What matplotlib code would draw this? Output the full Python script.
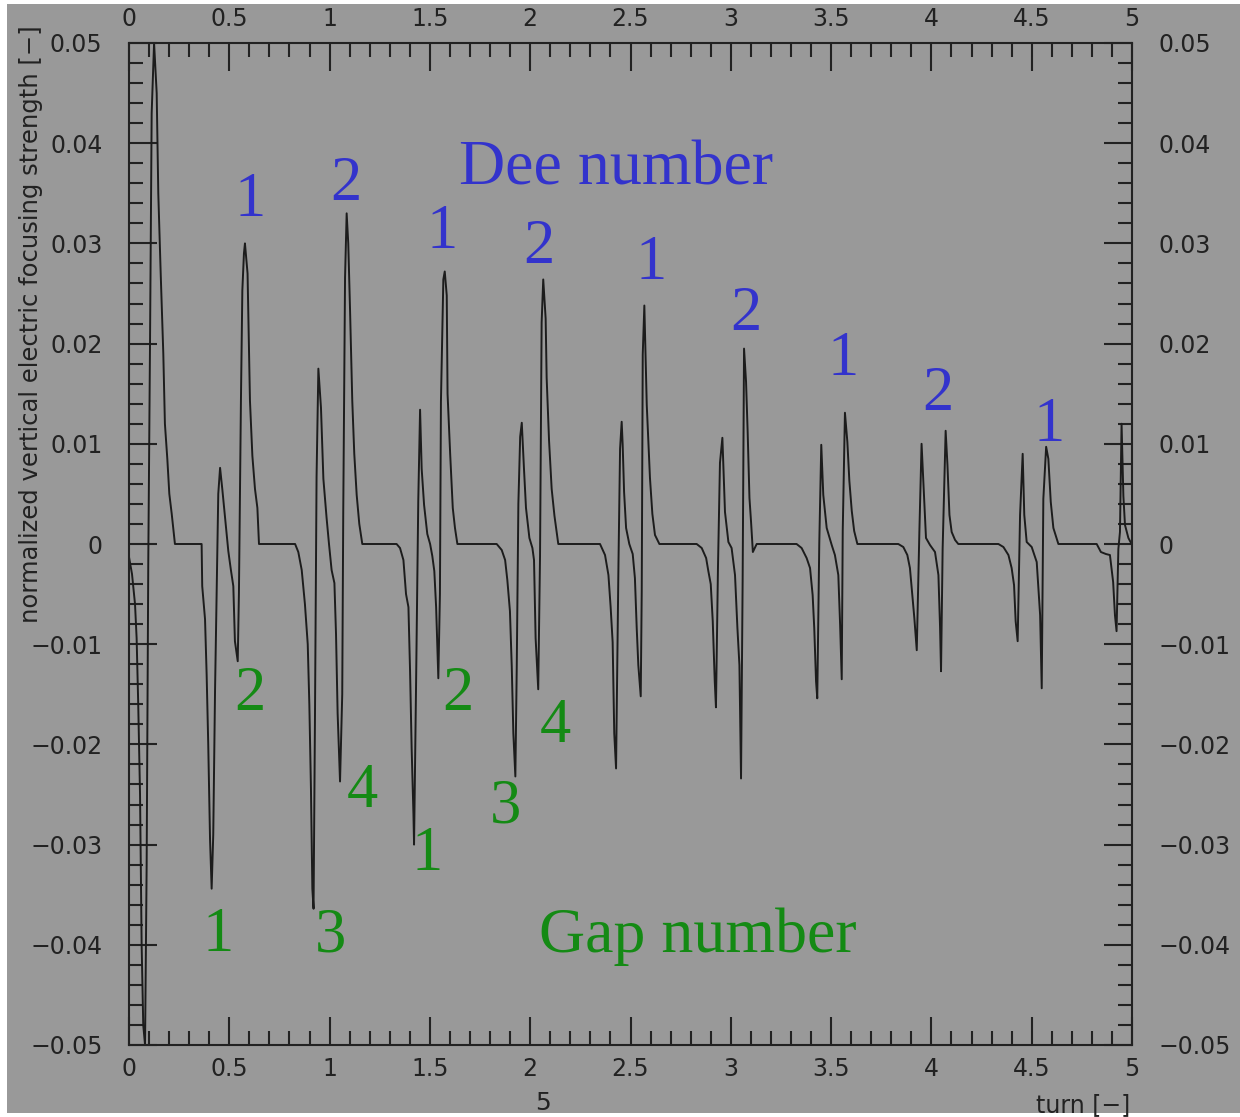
import matplotlib.pyplot as plt
from matplotlib.patches import Rectangle
from matplotlib.ticker import MultipleLocator

# focusing strength vs turn, one list pair per half turn
turn_0 = [0, 0.015, 0.030, 0.038, 0.046, 0.055, 0.063, 0.071, 0.080, 0.088, 0.096, 0.105,
          0.113, 0.125, 0.138, 0.146, 0.158, 0.171, 0.179, 0.191, 0.201, 0.213, 0.229]
fs_0 = [-0.0013, -0.003, -0.006, -0.0094, -0.016, -0.025, -0.040, -0.048, -0.050, -0.032, -0.002, 0.0207,
        0.043, 0.050, 0.045, 0.035, 0.027, 0.019, 0.012, 0.0085, 0.005, 0.003, 0.0]

turn_1 = [0.362, 0.365, 0.379, 0.387, 0.395, 0.404, 0.412, 0.420, 0.429, 0.437, 0.445, 0.454, 0.465,
          0.479, 0.495, 0.508, 0.520, 0.528, 0.542, 0.548, 0.558, 0.565, 0.573, 0.578, 0.591, 0.603,
          0.615, 0.628, 0.640, 0.648]
fs_1 = [0, -0.0042, -0.0075, -0.013, -0.020, -0.0295, -0.0344, -0.0290, -0.0145, -0.0050, 0.0050, 0.0076, 0.0055,
        0.0026, -0.0007, -0.0026, -0.0042, -0.0097, -0.0117, -0.0049, 0.0143, 0.0253, 0.029, 0.030, 0.027, 0.0143,
        0.0088, 0.0055, 0.0036, 0.0]

turn_2 = [0.828, 0.844, 0.861, 0.877, 0.891, 0.899, 0.907, 0.914, 0.920, 0.927, 0.935, 0.944, 0.957,
          0.969, 0.985, 0.997, 1.010, 1.024, 1.032, 1.040, 1.052, 1.063, 1.068, 1.077, 1.085, 1.093,
          1.102, 1.113, 1.123, 1.135, 1.148, 1.163]
fs_2 = [0, -0.0008, -0.0026, -0.006, -0.010, -0.016, -0.0244, -0.0344, -0.0364, -0.0175, 0.0067, 0.0175, 0.0136,
        0.0065, 0.0026, 0.0, -0.0026, -0.0039, -0.009, -0.0169, -0.0237, -0.015, 0.0031, 0.0266, 0.033, 0.030,
        0.0233, 0.0143, 0.009, 0.0049, 0.002, 0.0]

turn_3 = [1.334, 1.351, 1.368, 1.381, 1.393, 1.401, 1.409, 1.418, 1.421, 1.431, 1.442, 1.451, 1.459,
          1.471, 1.487, 1.501, 1.512, 1.522, 1.531, 1.542, 1.550, 1.555, 1.567, 1.574, 1.584, 1.588,
          1.601, 1.614, 1.625, 1.637]
fs_3 = [0, -0.0004, -0.0016, -0.005, -0.0063, -0.0126, -0.0204, -0.027, -0.030, -0.0141, 0.0043, 0.0134, 0.0075,
        0.0039, 0.001, 0.0, -0.0012, -0.0027, -0.0063, -0.0134, -0.005, 0.0142, 0.0264, 0.0272, 0.0248, 0.015,
        0.009, 0.0036, 0.0016, 0.0]

turn_4 = [1.833, 1.858, 1.875, 1.886, 1.899, 1.908, 1.916, 1.926, 1.933, 1.941, 1.950, 1.958, 1.969,
          1.979, 1.996, 2.011, 2.019, 2.027, 2.040, 2.049, 2.057, 2.065, 2.077, 2.082, 2.094, 2.107,
          2.121, 2.140]
fs_4 = [0, -0.0006, -0.0016, -0.0036, -0.0067, -0.0122, -0.0189, -0.0232, -0.0122, 0.0040, 0.0107, 0.0121, 0.0075,
        0.0036, 0.0006, -0.0004, -0.0016, -0.0094, -0.0145, -0.0012, 0.0221, 0.0264, 0.0225, 0.0166, 0.0103, 0.0055,
        0.0028, 0.0]

turn_5 = [2.348, 2.373, 2.390, 2.401, 2.411, 2.419, 2.428, 2.440, 2.448, 2.456, 2.461, 2.468, 2.478,
          2.494, 2.511, 2.522, 2.531, 2.539, 2.551, 2.556, 2.561, 2.569, 2.581, 2.597, 2.609, 2.622, 2.644]
fs_5 = [0, -0.0011, -0.0031, -0.0063, -0.0098, -0.0189, -0.0224, -0.002, 0.0095, 0.0122, 0.0099, 0.0052, 0.0016,
        0.0, -0.001, -0.0034, -0.0084, -0.0121, -0.0152, -0.0047, 0.0189, 0.0238, 0.0139, 0.0066, 0.003, 0.0009, 0.0]

turn_6 = [2.830, 2.855, 2.877, 2.888, 2.900, 2.910, 2.920, 2.926, 2.936, 2.946, 2.958, 2.971, 2.988,
          3.004, 3.021, 3.033, 3.043, 3.051, 3.059, 3.066, 3.076, 3.084, 3.093, 3.101, 3.110, 3.129]
fs_6 = [0, -0.0004, -0.0014, -0.0027, -0.004, -0.0077, -0.0137, -0.0163, -0.0024, 0.0081, 0.0106, 0.0032, 0.0002,
        -0.0004, -0.0031, -0.0084, -0.0121, -0.0234, -0.0037, 0.0195, 0.0162, 0.0112, 0.0046, 0.0022, -0.0008, 0.0]

turn_7 = [3.328, 3.353, 3.378, 3.395, 3.408, 3.416, 3.425, 3.431, 3.441, 3.451, 3.461, 3.478, 3.503,
          3.519, 3.536, 3.545, 3.553, 3.558, 3.569, 3.581, 3.591, 3.603, 3.615, 3.631]
fs_7 = [0, -0.0004, -0.0014, -0.0024, -0.0051, -0.0084, -0.0137, -0.0154, 0.0, 0.0099, 0.0049, 0.0016, -0.0001,
        -0.0011, -0.0031, -0.0081, -0.0135, 0.0013, 0.0131, 0.0102, 0.0063, 0.0033, 0.0013, 0.0]

turn_8 = [3.835, 3.860, 3.880, 3.893, 3.905, 3.915, 3.927, 3.940, 3.951, 3.960, 3.973, 3.993, 4.018,
          4.035, 4.043, 4.048, 4.056, 4.071, 4.080, 4.090, 4.101, 4.118, 4.134]
fs_8 = [0, -0.0003, -0.0011, -0.0024, -0.0051, -0.0074, -0.0106, 0.0012, 0.010, 0.0062, 0.0006, -0.0001, -0.0008,
        -0.0031, -0.0082, -0.0127, -0.0005, 0.0113, 0.0079, 0.0029, 0.0012, 0.0004, 0.0]

turn_9 = [4.334, 4.359, 4.384, 4.400, 4.412, 4.420, 4.430, 4.442, 4.455, 4.463, 4.475, 4.500, 4.525,
          4.542, 4.550, 4.558, 4.572, 4.583, 4.595, 4.608, 4.633]
fs_9 = [0, -0.0003, -0.0011, -0.0024, -0.0041, -0.0077, -0.0097, 0.0029, 0.009, 0.0029, 0.0002, -0.0003, -0.0018,
        -0.0071, -0.0144, 0.0045, 0.0097, 0.0085, 0.0042, 0.0016, 0.0]

turn_10 = [4.824, 4.845, 4.870, 4.890, 4.906, 4.915, 4.923, 4.932, 4.940, 4.948, 4.957, 4.965, 4.982, 4.998]
fs_10 = [0, -0.0008, -0.0010, -0.0011, -0.0038, -0.0071, -0.0087, -0.0005, 0.0012, 0.012, 0.0048, 0.0019, 0.0006, 0.0]

x_ticks = [0, 0.5, 1, 1.5, 2, 2.5, 3, 3.5, 4, 4.5, 5]
x_labels = ['0', '0.5', '1', '1.5', '2', '2.5', '3', '3.5', '4', '4.5', '5']
y_ticks = [-0.05, -0.04, -0.03, -0.02, -0.01, 0, 0.01, 0.02, 0.03, 0.04, 0.05]
y_labels = ['\u22120.05', '\u22120.04', '\u22120.03', '\u22120.02', '\u22120.01', '0',
            '0.01', '0.02', '0.03', '0.04', '0.05']

# annotation labels: text, turn, strength
dee_labels = ['1', '2', '1', '2', '1', '2', '1', '2', '1']
dee_x = [0.603, 1.082, 1.561, 2.044, 2.602, 3.076, 3.559, 4.033, 4.586]
dee_y = [0.0342, 0.0358, 0.0310, 0.0295, 0.0279, 0.0229, 0.0184, 0.0149, 0.0118]
gap_labels = ['1', '2', '3', '4', '1', '2', '3', '4']
gap_x = [0.444, 0.603, 1.002, 1.162, 1.486, 1.640, 1.879, 2.124]
gap_y = [-0.0391, -0.0151, -0.0392, -0.0248, -0.0310, -0.0151, -0.0263, -0.0183]

turn = (turn_0 + turn_1 + turn_2 + turn_3 + turn_4 + turn_5 + turn_6 + turn_7 + turn_8
        + turn_9 + turn_10)
fs = fs_0 + fs_1 + fs_2 + fs_3 + fs_4 + fs_5 + fs_6 + fs_7 + fs_8 + fs_9 + fs_10

bg = '#999999'
ink = '#222222'
blue = '#3333cc'
green = '#148a14'

W, H = 1240, 1117
fig = plt.figure(figsize=(W / 100, H / 100), dpi=100)
fig.patch.set_facecolor('white')
fig.patches.append(Rectangle((7 / W, 4 / H), 1 - 7 / W, 1 - 8 / H, transform=fig.transFigure,
                             facecolor=bg, edgecolor='none', zorder=-10))

ax = fig.add_axes([129 / W, (H - 1045) / H, (1132 - 129) / W, (1045 - 43) / H])
ax.set_facecolor(bg)
ax.plot(turn, fs, color='#1c1c1c', lw=1.4)

ax.set_xlim(0, 5)
ax.set_ylim(-0.05, 0.05)
ax.set_xticks(x_ticks)
ax.set_xticklabels(x_labels)
ax.set_yticks(y_ticks)
ax.set_yticklabels(y_labels)
ax.xaxis.set_minor_locator(MultipleLocator(0.1))
ax.yaxis.set_minor_locator(MultipleLocator(0.002))
ax.tick_params(which='both', direction='in', top=True, right=True, labeltop=True,
               labelright=True, color=ink, labelcolor=ink, labelsize=17, width=1.5)
ax.tick_params(which='major', length=20)
ax.tick_params(which='minor', length=10)
ax.tick_params(axis='y', pad=19)
ax.tick_params(axis='x', pad=9)
for s in ax.spines.values():
    s.set_color(ink)
    s.set_linewidth(1.5)

for t, x, y in zip(dee_labels, dee_x, dee_y):
    ax.text(x, y, t, color=blue, fontsize=45, family='Liberation Serif', ha='center', va='center')
for t, x, y in zip(gap_labels, gap_x, gap_y):
    ax.text(x, y, t, color=green, fontsize=45, family='Liberation Serif', ha='center', va='center')
ax.text(2.428, 0.0374, 'Dee number', color=blue, fontsize=46, family='Liberation Serif',
        ha='center', va='center')
ax.text(2.836, -0.0392, 'Gap number', color=green, fontsize=46, family='Liberation Serif',
        ha='center', va='center')

fig.text(31 / W, 1 - 25 / H, 'normalized vertical electric focusing strength [\u2212]', rotation=90,
         ha='center', va='top', fontsize=17.5, color=ink)
fig.text(1130 / W, 1 - 1105 / H, 'turn [\u2212]', ha='right', va='center', fontsize=17, color=ink)
fig.text(543 / W, 1 - 1103 / H, '5', ha='center', va='center', fontsize=18, color=ink)

fig.savefig('out.png', dpi=100, facecolor=fig.get_facecolor())
